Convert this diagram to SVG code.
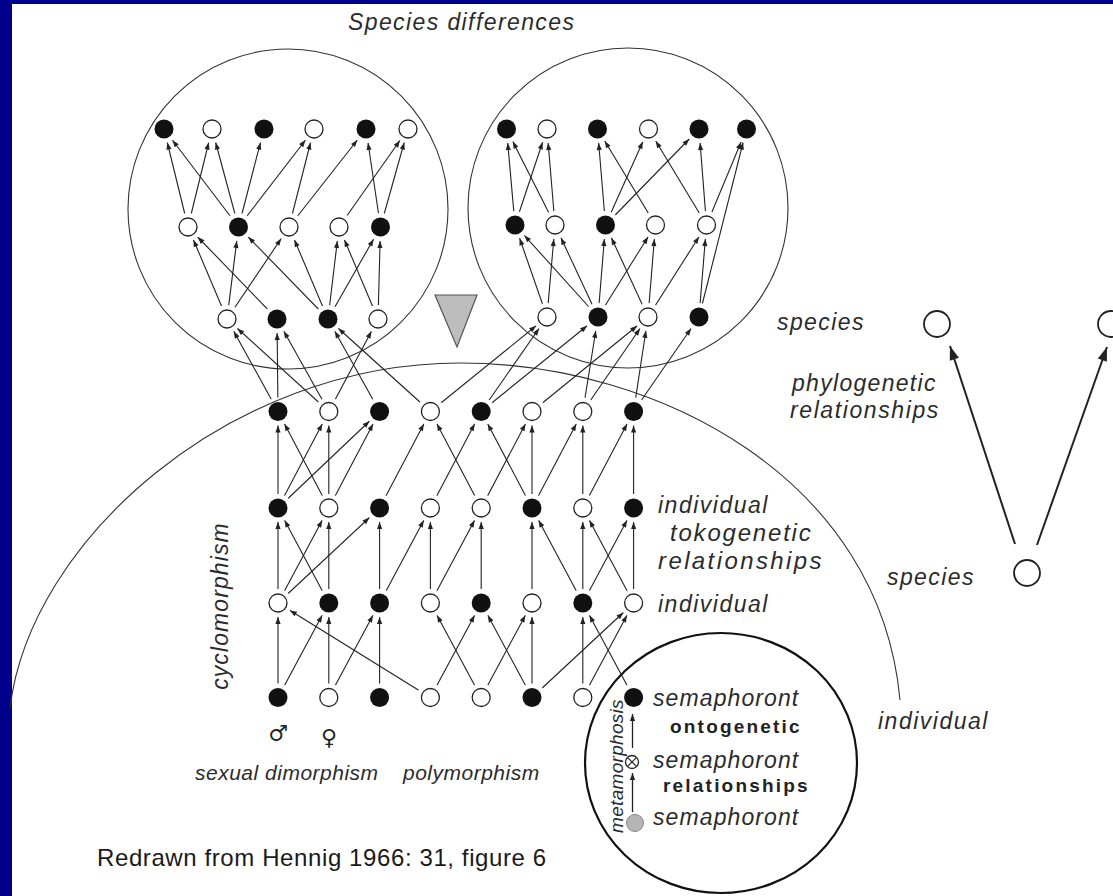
<svg xmlns="http://www.w3.org/2000/svg" width="1113" height="896" viewBox="0 0 1113 896">
  <style>
    .ln { stroke: #222; stroke-width: 1.1; fill: none; marker-end: url(#ah); }
    .nb { fill: #111; }
    .nw { fill: #fff; stroke: #222; stroke-width: 1.3; }
    .ring { fill: none; stroke: #333; stroke-width: 1.1; }
    .lab { font-family: "Liberation Sans", Arial, sans-serif; font-style: italic; font-size: 23px; fill: #2b2b2b; }
    .bold { font-family: "Liberation Sans", Arial, sans-serif; font-weight: bold; font-size: 19px; letter-spacing: 2.2px; fill: #222; }
    .phy { stroke: #222; stroke-width: 2; fill: none; marker-end: url(#ahBig); }
    .sp { fill: #fff; stroke: #222; stroke-width: 1.8; }
  </style>
  <defs>
    <!-- arrowhead whose tip stops short of the target node centre -->
    <marker id="ah" markerUnits="userSpaceOnUse" viewBox="-30 -5 30 10" markerWidth="30" markerHeight="10" refX="0" refY="0" orient="auto">
      <path d="M-14,0 L-21,-2.6 L-21,2.6 Z" fill="#222"/>
    </marker>
    <marker id="ahTip" markerUnits="userSpaceOnUse" viewBox="-10 -5 10 10" markerWidth="10" markerHeight="10" refX="0" refY="0" orient="auto">
      <path d="M0,0 L-7,-2.6 L-7,2.6 Z" fill="#222"/>
    </marker>
    <marker id="ahBig" markerUnits="userSpaceOnUse" viewBox="-16 -6 16 12" markerWidth="16" markerHeight="12" refX="0" refY="0" orient="auto">
      <path d="M0,0 L-14,-4.8 L-14,4.8 Z" fill="#222"/>
    </marker>
    <!-- keeps connector ends clear of the node discs -->
    <mask id="gaps" maskUnits="userSpaceOnUse" x="0" y="0" width="1113" height="896">
      <rect x="0" y="0" width="1113" height="896" fill="#fff"/>
      <g fill="#000">
        <circle cx="278" cy="411.5" r="14"/><circle cx="328.8" cy="411.5" r="14"/><circle cx="379.6" cy="411.5" r="14"/><circle cx="430.4" cy="411.5" r="14"/>
        <circle cx="481.2" cy="411.5" r="14"/><circle cx="532" cy="411.5" r="14"/><circle cx="582.8" cy="411.5" r="14"/><circle cx="633.6" cy="411.5" r="14"/>
        <circle cx="278" cy="508" r="14"/><circle cx="328.8" cy="508" r="14"/><circle cx="379.6" cy="508" r="14"/><circle cx="430.4" cy="508" r="14"/>
        <circle cx="481.2" cy="508" r="14"/><circle cx="532" cy="508" r="14"/><circle cx="582.8" cy="508" r="14"/><circle cx="633.6" cy="508" r="14"/>
        <circle cx="278" cy="603" r="14"/><circle cx="328.8" cy="603" r="14"/><circle cx="379.6" cy="603" r="14"/><circle cx="430.4" cy="603" r="14"/>
        <circle cx="481.2" cy="603" r="14"/><circle cx="532" cy="603" r="14"/><circle cx="582.8" cy="603" r="14"/><circle cx="633.6" cy="603" r="14"/>
        <circle cx="278" cy="697.5" r="14"/><circle cx="328.8" cy="697.5" r="14"/><circle cx="379.6" cy="697.5" r="14"/><circle cx="430.4" cy="697.5" r="14"/>
        <circle cx="481.2" cy="697.5" r="14"/><circle cx="532" cy="697.5" r="14"/><circle cx="582.8" cy="697.5" r="14"/><circle cx="633.6" cy="697.5" r="14"/>
        <circle cx="164" cy="129" r="14"/><circle cx="212" cy="129" r="14"/><circle cx="264" cy="129" r="14"/><circle cx="314" cy="129" r="14"/><circle cx="366" cy="129" r="14"/><circle cx="408" cy="129" r="14"/>
        <circle cx="188" cy="227" r="14"/><circle cx="238.5" cy="227" r="14"/><circle cx="289" cy="227" r="14"/><circle cx="339" cy="227" r="14"/><circle cx="380.5" cy="227" r="14"/>
        <circle cx="227" cy="319" r="14"/><circle cx="277" cy="319" r="14"/><circle cx="328" cy="319" r="14"/><circle cx="378" cy="319" r="14"/>
        <circle cx="506.5" cy="129" r="14"/><circle cx="547" cy="129" r="14"/><circle cx="597.5" cy="129" r="14"/><circle cx="648.5" cy="129" r="14"/><circle cx="699" cy="129" r="14"/><circle cx="746.5" cy="129" r="14"/>
        <circle cx="515" cy="225" r="14"/><circle cx="555" cy="225" r="14"/><circle cx="605.5" cy="225" r="14"/><circle cx="655.5" cy="225" r="14"/><circle cx="706.5" cy="225" r="14"/>
        <circle cx="547" cy="317" r="14"/><circle cx="598" cy="317" r="14"/><circle cx="648" cy="317" r="14"/><circle cx="699" cy="317" r="14"/>
      </g>
    </mask>
  </defs>

  <!-- slide frame -->
  <rect x="0" y="0" width="1113" height="896" fill="#00008c"/>
  <rect x="12" y="4" width="1101" height="892" fill="#fff"/>

  <!-- outlines: species circles, individual boundary, semaphoront circle -->
  <g id="outlines">
    <circle class="ring" cx="288" cy="209" r="160"/>
    <circle class="ring" cx="628" cy="208" r="160"/>
    <path class="ring" d="M10,708 C30,540 230,363 460,363 C660,363 880,480 900,700"/>
    <ellipse cx="721" cy="763" rx="136" ry="130" fill="none" stroke="#111" stroke-width="2.2"/>
    <polygon points="435,295 477,295 457,347" fill="#bdbdbd" stroke="#555" stroke-width="1.2"/>
  </g>

  <!-- connectors -->
  <g id="connectors" mask="url(#gaps)">
    <!-- left species: middle to top -->
    <line class="ln" x1="188" y1="227" x2="164" y2="129"/>
    <line class="ln" x1="188" y1="227" x2="212" y2="129"/>
    <line class="ln" x1="238.5" y1="227" x2="164" y2="129"/>
    <line class="ln" x1="238.5" y1="227" x2="212" y2="129"/>
    <line class="ln" x1="238.5" y1="227" x2="264" y2="129"/>
    <line class="ln" x1="238.5" y1="227" x2="314" y2="129"/>
    <line class="ln" x1="289" y1="227" x2="314" y2="129"/>
    <line class="ln" x1="289" y1="227" x2="366" y2="129"/>
    <line class="ln" x1="339" y1="227" x2="408" y2="129"/>
    <line class="ln" x1="380.5" y1="227" x2="366" y2="129"/>
    <line class="ln" x1="380.5" y1="227" x2="408" y2="129"/>
    <!-- left species: bottom to middle -->
    <line class="ln" x1="227" y1="319" x2="188" y2="227"/>
    <line class="ln" x1="227" y1="319" x2="238.5" y2="227"/>
    <line class="ln" x1="227" y1="319" x2="289" y2="227"/>
    <line class="ln" x1="277" y1="319" x2="188" y2="227"/>
    <line class="ln" x1="328" y1="319" x2="238.5" y2="227"/>
    <line class="ln" x1="328" y1="319" x2="289" y2="227"/>
    <line class="ln" x1="328" y1="319" x2="339" y2="227"/>
    <line class="ln" x1="328" y1="319" x2="380.5" y2="227"/>
    <line class="ln" x1="378" y1="319" x2="339" y2="227"/>
    <line class="ln" x1="378" y1="319" x2="380.5" y2="227"/>
    <!-- right species: middle to top -->
    <line class="ln" x1="515" y1="225" x2="506.5" y2="129"/>
    <line class="ln" x1="515" y1="225" x2="547" y2="129"/>
    <line class="ln" x1="555" y1="225" x2="506.5" y2="129"/>
    <line class="ln" x1="555" y1="225" x2="547" y2="129"/>
    <line class="ln" x1="605.5" y1="225" x2="597.5" y2="129"/>
    <line class="ln" x1="605.5" y1="225" x2="648.5" y2="129"/>
    <line class="ln" x1="605.5" y1="225" x2="699" y2="129"/>
    <line class="ln" x1="655.5" y1="225" x2="597.5" y2="129"/>
    <line class="ln" x1="706.5" y1="225" x2="648.5" y2="129"/>
    <line class="ln" x1="706.5" y1="225" x2="699" y2="129"/>
    <line class="ln" x1="706.5" y1="225" x2="746.5" y2="129"/>
    <!-- right species: bottom to middle -->
    <line class="ln" x1="547" y1="317" x2="515" y2="225"/>
    <line class="ln" x1="547" y1="317" x2="555" y2="225"/>
    <line class="ln" x1="598" y1="317" x2="515" y2="225"/>
    <line class="ln" x1="598" y1="317" x2="555" y2="225"/>
    <line class="ln" x1="598" y1="317" x2="605.5" y2="225"/>
    <line class="ln" x1="598" y1="317" x2="655.5" y2="225"/>
    <line class="ln" x1="648" y1="317" x2="605.5" y2="225"/>
    <line class="ln" x1="648" y1="317" x2="655.5" y2="225"/>
    <line class="ln" x1="648" y1="317" x2="706.5" y2="225"/>
    <line class="ln" x1="699" y1="317" x2="706.5" y2="225"/>
    <line class="ln" x1="699" y1="317" x2="746.5" y2="129"/>
    <!-- top individuals to species -->
    <line class="ln" x1="278" y1="411.5" x2="227" y2="319"/>
    <line class="ln" x1="328.8" y1="411.5" x2="227" y2="319"/>
    <line class="ln" x1="278" y1="411.5" x2="277" y2="319"/>
    <line class="ln" x1="328.8" y1="411.5" x2="277" y2="319"/>
    <line class="ln" x1="379.6" y1="411.5" x2="328" y2="319"/>
    <line class="ln" x1="430.4" y1="411.5" x2="328" y2="319"/>
    <line class="ln" x1="328.8" y1="411.5" x2="378" y2="319"/>
    <line class="ln" x1="430.4" y1="411.5" x2="547" y2="317"/>
    <line class="ln" x1="481.2" y1="411.5" x2="547" y2="317"/>
    <line class="ln" x1="481.2" y1="411.5" x2="598" y2="317"/>
    <line class="ln" x1="532" y1="411.5" x2="648" y2="317"/>
    <line class="ln" x1="582.8" y1="411.5" x2="598" y2="317"/>
    <line class="ln" x1="582.8" y1="411.5" x2="648" y2="317"/>
    <line class="ln" x1="633.6" y1="411.5" x2="648" y2="317"/>
    <line class="ln" x1="633.6" y1="411.5" x2="699" y2="317"/>
    <!-- row B to row A -->
    <line class="ln" x1="278" y1="508" x2="278" y2="411.5"/>
    <line class="ln" x1="328.8" y1="508" x2="278" y2="411.5"/>
    <line class="ln" x1="278" y1="508" x2="328.8" y2="411.5"/>
    <line class="ln" x1="328.8" y1="508" x2="328.8" y2="411.5"/>
    <line class="ln" x1="278" y1="508" x2="379.6" y2="411.5"/>
    <line class="ln" x1="328.8" y1="508" x2="379.6" y2="411.5"/>
    <line class="ln" x1="379.6" y1="508" x2="430.4" y2="411.5"/>
    <line class="ln" x1="481.2" y1="508" x2="430.4" y2="411.5"/>
    <line class="ln" x1="430.4" y1="508" x2="481.2" y2="411.5"/>
    <line class="ln" x1="532" y1="508" x2="481.2" y2="411.5"/>
    <line class="ln" x1="481.2" y1="508" x2="532" y2="411.5"/>
    <line class="ln" x1="532" y1="508" x2="532" y2="411.5"/>
    <line class="ln" x1="532" y1="508" x2="582.8" y2="411.5"/>
    <line class="ln" x1="582.8" y1="508" x2="582.8" y2="411.5"/>
    <line class="ln" x1="582.8" y1="508" x2="633.6" y2="411.5"/>
    <line class="ln" x1="633.6" y1="508" x2="633.6" y2="411.5"/>
    <!-- row C to row B -->
    <line class="ln" x1="278" y1="603" x2="278" y2="508"/>
    <line class="ln" x1="328.8" y1="603" x2="278" y2="508"/>
    <line class="ln" x1="278" y1="603" x2="328.8" y2="508"/>
    <line class="ln" x1="328.8" y1="603" x2="328.8" y2="508"/>
    <line class="ln" x1="278" y1="603" x2="379.6" y2="508"/>
    <line class="ln" x1="379.6" y1="603" x2="379.6" y2="508"/>
    <line class="ln" x1="379.6" y1="603" x2="430.4" y2="508"/>
    <line class="ln" x1="430.4" y1="603" x2="430.4" y2="508"/>
    <line class="ln" x1="430.4" y1="603" x2="481.2" y2="508"/>
    <line class="ln" x1="481.2" y1="603" x2="481.2" y2="508"/>
    <line class="ln" x1="532" y1="603" x2="532" y2="508"/>
    <line class="ln" x1="582.8" y1="603" x2="532" y2="508"/>
    <line class="ln" x1="582.8" y1="603" x2="582.8" y2="508"/>
    <line class="ln" x1="633.6" y1="603" x2="582.8" y2="508"/>
    <line class="ln" x1="582.8" y1="603" x2="633.6" y2="508"/>
    <line class="ln" x1="633.6" y1="603" x2="633.6" y2="508"/>
    <!-- row D to row C -->
    <line class="ln" x1="278" y1="697.5" x2="278" y2="603"/>
    <line class="ln" x1="278" y1="697.5" x2="328.8" y2="603"/>
    <line class="ln" x1="328.8" y1="697.5" x2="328.8" y2="603"/>
    <line class="ln" x1="328.8" y1="697.5" x2="379.6" y2="603"/>
    <line class="ln" x1="379.6" y1="697.5" x2="379.6" y2="603"/>
    <line class="ln" x1="430.4" y1="697.5" x2="278" y2="603"/>
    <line class="ln" x1="481.2" y1="697.5" x2="430.4" y2="603"/>
    <line class="ln" x1="430.4" y1="697.5" x2="481.2" y2="603"/>
    <line class="ln" x1="532" y1="697.5" x2="481.2" y2="603"/>
    <line class="ln" x1="481.2" y1="697.5" x2="532" y2="603"/>
    <line class="ln" x1="532" y1="697.5" x2="532" y2="603"/>
    <line class="ln" x1="532" y1="697.5" x2="633.6" y2="603"/>
    <line class="ln" x1="582.8" y1="697.5" x2="582.8" y2="603"/>
    <line class="ln" x1="582.8" y1="697.5" x2="633.6" y2="603"/>
    <line class="ln" x1="633.6" y1="697.5" x2="582.8" y2="603"/>
  </g>
  <g id="connectors-other">
    <!-- ontogenetic steps -->
    <line x1="632.5" y1="748" x2="632.5" y2="714" stroke="#222" stroke-width="1.3" marker-end="url(#ahTip)"/>
    <line x1="632.5" y1="812" x2="632.5" y2="773" stroke="#222" stroke-width="1.3" marker-end="url(#ahTip)"/>
    <!-- phylogenetic split -->
    <line class="phy" x1="1015" y1="544" x2="950" y2="346"/>
    <line class="phy" x1="1037" y1="545" x2="1107" y2="347"/>
  </g>

  <!-- species, left circle -->
  <g id="lt1"><circle class="nb" cx="164" cy="129" r="9.5"/></g>
  <g id="lt2"><circle class="nw" cx="212" cy="129" r="9"/></g>
  <g id="lt3"><circle class="nb" cx="264" cy="129" r="9.5"/></g>
  <g id="lt4"><circle class="nw" cx="314" cy="129" r="9"/></g>
  <g id="lt5"><circle class="nb" cx="366" cy="129" r="9.5"/></g>
  <g id="lt6"><circle class="nw" cx="408" cy="129" r="9"/></g>
  <g id="lm1"><circle class="nw" cx="188" cy="227" r="9"/></g>
  <g id="lm2"><circle class="nb" cx="238.5" cy="227" r="9.5"/></g>
  <g id="lm3"><circle class="nw" cx="289" cy="227" r="9"/></g>
  <g id="lm4"><circle class="nw" cx="339" cy="227" r="9"/></g>
  <g id="lm5"><circle class="nb" cx="380.5" cy="227" r="9.5"/></g>
  <g id="lb1"><circle class="nw" cx="227" cy="319" r="9"/></g>
  <g id="lb2"><circle class="nb" cx="277" cy="319" r="9.5"/></g>
  <g id="lb3"><circle class="nb" cx="328" cy="319" r="9.5"/></g>
  <g id="lb4"><circle class="nw" cx="378" cy="319" r="9"/></g>
  <!-- species, right circle -->
  <g id="rt1"><circle class="nb" cx="506.5" cy="129" r="9.5"/></g>
  <g id="rt2"><circle class="nw" cx="547" cy="129" r="9"/></g>
  <g id="rt3"><circle class="nb" cx="597.5" cy="129" r="9.5"/></g>
  <g id="rt4"><circle class="nw" cx="648.5" cy="129" r="9"/></g>
  <g id="rt5"><circle class="nb" cx="699" cy="129" r="9.5"/></g>
  <g id="rt6"><circle class="nb" cx="746.5" cy="129" r="9.5"/></g>
  <g id="rm1"><circle class="nb" cx="515" cy="225" r="9.5"/></g>
  <g id="rm2"><circle class="nw" cx="555" cy="225" r="9"/></g>
  <g id="rm3"><circle class="nb" cx="605.5" cy="225" r="9.5"/></g>
  <g id="rm4"><circle class="nw" cx="655.5" cy="225" r="9"/></g>
  <g id="rm5"><circle class="nw" cx="706.5" cy="225" r="9"/></g>
  <g id="rb1"><circle class="nw" cx="547" cy="317" r="9"/></g>
  <g id="rb2"><circle class="nb" cx="598" cy="317" r="9.5"/></g>
  <g id="rb3"><circle class="nw" cx="648" cy="317" r="9"/></g>
  <g id="rb4"><circle class="nb" cx="699" cy="317" r="9.5"/></g>

  <!-- individuals, row A -->
  <g id="a1"><circle class="nb" cx="278" cy="411.5" r="9.5"/></g>
  <g id="a2"><circle class="nw" cx="328.8" cy="411.5" r="9"/></g>
  <g id="a3"><circle class="nb" cx="379.6" cy="411.5" r="9.5"/></g>
  <g id="a4"><circle class="nw" cx="430.4" cy="411.5" r="9"/></g>
  <g id="a5"><circle class="nb" cx="481.2" cy="411.5" r="9.5"/></g>
  <g id="a6"><circle class="nw" cx="532" cy="411.5" r="9"/></g>
  <g id="a7"><circle class="nw" cx="582.8" cy="411.5" r="9"/></g>
  <g id="a8"><circle class="nb" cx="633.6" cy="411.5" r="9.5"/></g>
  <!-- row B -->
  <g id="b1"><circle class="nb" cx="278" cy="508" r="9.5"/></g>
  <g id="b2"><circle class="nw" cx="328.8" cy="508" r="9"/></g>
  <g id="b3"><circle class="nb" cx="379.6" cy="508" r="9.5"/></g>
  <g id="b4"><circle class="nw" cx="430.4" cy="508" r="9"/></g>
  <g id="b5"><circle class="nw" cx="481.2" cy="508" r="9"/></g>
  <g id="b6"><circle class="nb" cx="532" cy="508" r="9.5"/></g>
  <g id="b7"><circle class="nw" cx="582.8" cy="508" r="9"/></g>
  <g id="b8"><circle class="nb" cx="633.6" cy="508" r="9.5"/></g>
  <!-- row C -->
  <g id="c1"><circle class="nw" cx="278" cy="603" r="9"/></g>
  <g id="c2"><circle class="nb" cx="328.8" cy="603" r="9.5"/></g>
  <g id="c3"><circle class="nb" cx="379.6" cy="603" r="9.5"/></g>
  <g id="c4"><circle class="nw" cx="430.4" cy="603" r="9"/></g>
  <g id="c5"><circle class="nb" cx="481.2" cy="603" r="9.5"/></g>
  <g id="c6"><circle class="nw" cx="532" cy="603" r="9"/></g>
  <g id="c7"><circle class="nb" cx="582.8" cy="603" r="9.5"/></g>
  <g id="c8"><circle class="nw" cx="633.6" cy="603" r="9"/></g>
  <!-- row D -->
  <g id="d1"><circle class="nb" cx="278" cy="697.5" r="9.5"/></g>
  <g id="d2"><circle class="nw" cx="328.8" cy="697.5" r="9"/></g>
  <g id="d3"><circle class="nb" cx="379.6" cy="697.5" r="9.5"/></g>
  <g id="d4"><circle class="nw" cx="430.4" cy="697.5" r="9"/></g>
  <g id="d5"><circle class="nw" cx="481.2" cy="697.5" r="9"/></g>
  <g id="d6"><circle class="nb" cx="532" cy="697.5" r="9.5"/></g>
  <g id="d7"><circle class="nw" cx="582.8" cy="697.5" r="9"/></g>
  <g id="d8"><circle class="nb" cx="633.6" cy="697.5" r="9.5"/></g>

  <!-- semaphoronts -->
  <g id="sem-mid">
    <circle cx="632" cy="762" r="6.5" fill="#fff" stroke="#222" stroke-width="1.3"/>
    <path d="M627.4,757.4 L636.6,766.6 M636.6,757.4 L627.4,766.6" stroke="#222" stroke-width="1.2"/>
  </g>
  <g id="sem-low"><circle cx="635" cy="823" r="8.5" fill="#b5b5b5" stroke="#888" stroke-width="1"/></g>

  <!-- species of the phylogenetic split -->
  <g id="sp-left"><circle class="sp" cx="937" cy="324" r="13"/></g>
  <g id="sp-right"><circle class="sp" cx="1111" cy="324" r="13"/></g>
  <g id="sp-stem"><circle class="sp" cx="1027" cy="573" r="13"/></g>

  <!-- labels -->
  <g id="labels">
    <text class="lab" x="348" y="30" letter-spacing="1.4">Species differences</text>
    <text class="lab" x="777" y="330" letter-spacing="1.4">species</text>
    <text class="lab" x="792" y="391" letter-spacing="1.3">phylogenetic</text>
    <text class="lab" x="790" y="418" letter-spacing="1.6">relationships</text>
    <text class="lab" x="658" y="513" letter-spacing="1.5">individual</text>
    <text class="lab" style="font-size:24px" x="670" y="541" letter-spacing="1.8">tokogenetic</text>
    <text class="lab" style="font-size:24px" x="658" y="569" letter-spacing="2.4">relationships</text>
    <text class="lab" x="658" y="612" letter-spacing="1.5">individual</text>
    <text class="lab" x="887" y="585" letter-spacing="1.4">species</text>
    <text class="lab" x="878" y="729" letter-spacing="1.5">individual</text>
    <text class="lab" x="653" y="706" letter-spacing="1.1">semaphoront</text>
    <text class="lab" x="653" y="768" letter-spacing="1.1">semaphoront</text>
    <text class="lab" x="653" y="825" letter-spacing="1.1">semaphoront</text>
    <text class="bold" x="670" y="733">ontogenetic</text>
    <text class="bold" x="663" y="792">relationships</text>
    <text class="lab" style="font-size:19px" letter-spacing="0.3" text-anchor="middle" transform="translate(623,766) rotate(-90)">metamorphosis</text>
    <text class="lab" letter-spacing="1.1" text-anchor="middle" transform="translate(228,606) rotate(-90)">cyclomorphism</text>
    <text class="lab" style="font-size:21px" x="195" y="780" letter-spacing="0.5">sexual dimorphism</text>
    <text class="lab" style="font-size:21px" x="403" y="780" letter-spacing="0.5">polymorphism</text>
    <text x="278" y="741" text-anchor="middle" font-family="'DejaVu Serif', serif" font-weight="bold" font-size="22" fill="#222">♂</text>
    <text x="329" y="745" text-anchor="middle" font-family="'DejaVu Serif', serif" font-weight="bold" font-size="22" fill="#222">♀</text>
    <text x="97" y="866" font-family="'Liberation Sans', Arial, sans-serif" font-size="24" letter-spacing="0.6" fill="#1a1a1a">Redrawn from Hennig 1966: 31, figure 6</text>
  </g>
</svg>
